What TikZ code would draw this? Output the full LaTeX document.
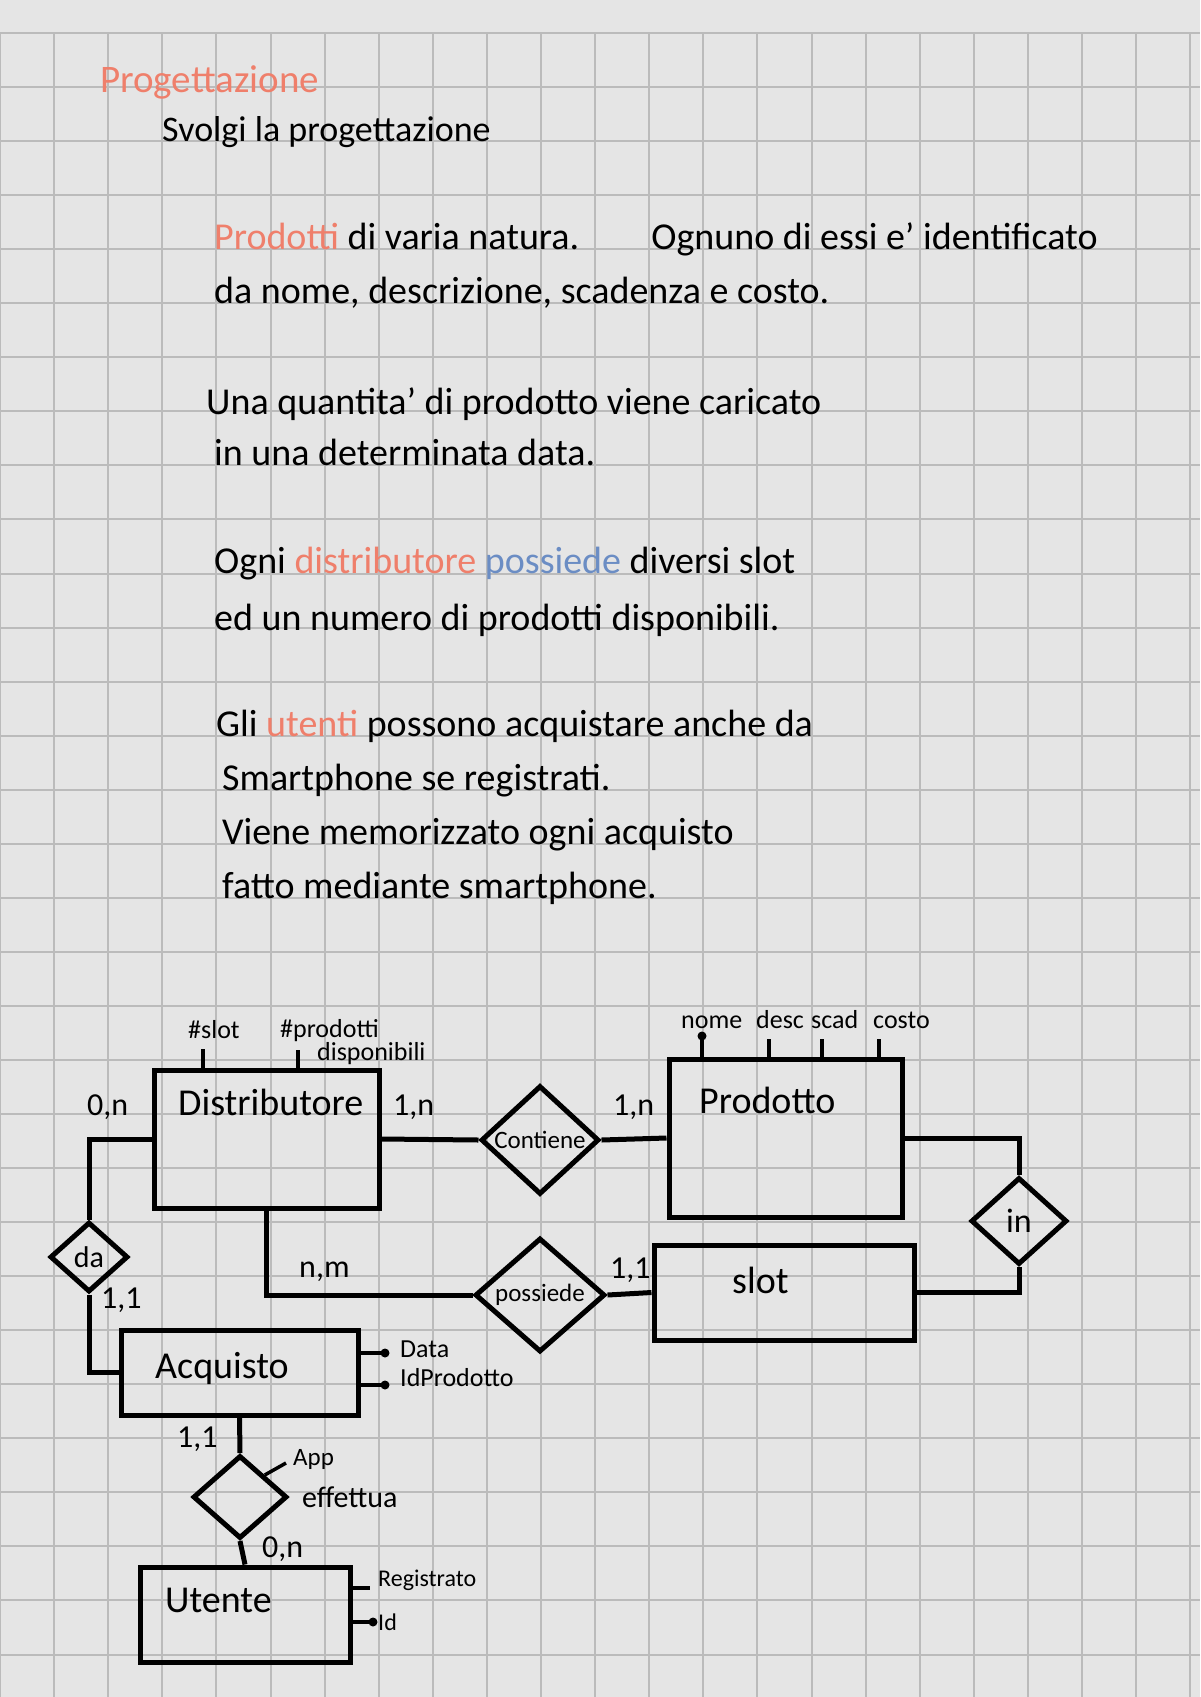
\documentclass[tikz,border=0pt]{standalone}
\usepackage{fontspec}
\setmainfont{Carlito}
\usetikzlibrary{shapes.geometric}
\definecolor{paper}{HTML}{E5E5E5}
\definecolor{gridgray}{HTML}{BBBBBB}
\definecolor{salmon}{HTML}{EF7F6B}
\definecolor{skyblue}{HTML}{6B8DC4}

\begin{document}
\begin{tikzpicture}[x=1pt, y=-1pt,
    txt/.style={anchor=base west, inner sep=0pt, font=\fontsize{38}{44}\selectfont},
    ename/.style={anchor=base west, inner sep=0pt, font=\fontsize{38}{40}\selectfont},
    card/.style={anchor=base west, inner sep=0pt, font=\fontsize{32}{34}\selectfont},
    attr/.style={anchor=base west, inner sep=0pt, font=\fontsize{26}{28}\selectfont},
    entity/.style={draw, line width=5pt, rectangle, inner sep=0pt},
    rel/.style={draw, line width=5pt, diamond, inner sep=0pt, font=\fontsize{25}{26}\selectfont},
    link/.style={line width=5pt},
    tick/.style={line width=3.5pt},
    gridline/.style={gridgray, line width=2pt}]

    % squared paper
    \fill[paper] (0,0) rectangle (1200,1697);
    \useasboundingbox (0,0) rectangle (1200,1697);
    \foreach \i in {0,...,22}
        \draw[gridline] (\i*54.1,33) -- (\i*54.1,1697);
    \foreach \j in {0,...,30}
        \draw[gridline] (0,33+\j*54.05) -- (1200,33+\j*54.05);

    % heading
    \node[txt, text=salmon, font=\fontsize{39}{44}\selectfont] (title) at (100,92) {Progettazione};
    \node[txt, font=\fontsize{36}{40}\selectfont] (subtitle) at (162,141) {Svolgi la progettazione};

    % text of the exercise
    \node[txt] (p1a) at (214,249) {{\color{salmon}Prodotti} di varia natura.\hspace{1.9em}Ognuno di essi e' identificato};
    \node[txt] (p1b) at (214,303) {da nome, descrizione, scadenza e costo.};
    \node[txt] (p2a) at (206,414) {Una quantita' di prodotto viene caricato};
    \node[txt] (p2b) at (214,465) {in una determinata data.};
    \node[txt] (p3a) at (214,573) {Ogni {\color{salmon}distributore} {\color{skyblue}possiede} diversi slot};
    \node[txt] (p3b) at (214,630) {ed un numero di prodotti disponibili.};
    \node[txt] (p4a) at (216,736) {Gli {\color{salmon}utenti} possono acquistare anche da};
    \node[txt] (p4b) at (222,790) {Smartphone se registrati.};
    \node[txt] (p4c) at (222,844) {Viene memorizzato ogni acquisto};
    \node[txt] (p4d) at (222,898) {fatto mediante smartphone.};

    % entities
    \node[entity, minimum width=225pt, minimum height=138pt] (distr) at (266.5,1139) {};
    \node[ename] (distrname) at (178,1115) {Distributore};
    \node[entity, minimum width=233pt, minimum height=158pt] (prod) at (785.5,1138) {};
    \node[ename] (prodname) at (699,1113) {Prodotto};
    \node[entity, minimum width=260pt, minimum height=95pt] (slot) at (784,1292.5) {};
    \node[ename] (slotname) at (732,1293) {slot};
    \node[entity, minimum width=237pt, minimum height=85pt] (acq) at (239.5,1372.5) {};
    \node[ename] (acqname) at (155,1378) {Acquisto};
    \node[entity, minimum width=210pt, minimum height=95pt] (ute) at (245,1614.5) {};
    \node[ename] (utename) at (165,1612) {Utente};

    % relationships
    \node[rel, minimum width=118pt, minimum height=102pt] (cont) at (540,1140) {Contiene};
    \node[rel, minimum width=130pt, minimum height=114pt] (poss) at (540,1295) {possiede};
    \node[rel, minimum width=78pt, minimum height=70pt, font=\fontsize{30}{30}\selectfont] (da) at (89,1257) {da};
    \node[rel, minimum width=96pt, minimum height=87pt, font=\fontsize{34}{34}\selectfont] (in) at (1019,1221) {in};
    \node[rel, minimum width=94pt, minimum height=83pt] (eff) at (240,1497) {};
    \node[attr, font=\fontsize{30}{30}\selectfont] (effname) at (302,1507) {effettua};

    % distributore -> da -> acquisto
    \draw[link] (distr.west) -| (da.north);
    \draw[link] (da.south) |- (acq.west);
    \node[card] (cdistrda) at (87,1115) {0,n};
    \node[card] (cacqda) at (101,1308) {1,1};

    % distributore -> contiene -> prodotto
    \draw[link] (distr.east) -- (cont.west);
    \draw[link] (cont.east) -- (prod.west);
    \node[card] (cdistrcont) at (393,1115) {1,n};
    \node[card] (cprodcont) at (613,1115) {1,n};

    % prodotto -> in -> slot
    \draw[link] (prod.east) -| (in.north);
    \draw[link] (in.south) |- (slot.east);

    % distributore -> possiede -> slot
    \draw[link] (distr.south) |- (poss.west);
    \draw[link] (poss.east) -- (slot.west);
    \node[card] (cdistrposs) at (299,1277) {n,m};
    \node[card] (cslotposs) at (610,1278) {1,1};

    % acquisto -> effettua -> utente
    \draw[link] (acq.south) -- (eff.north);
    \draw[link] (eff.south) -- (ute.north);
    \node[card] (cacqeff) at (177,1447) {1,1};
    \node[card] (cuteeff) at (262,1557) {0,n};

    % attributes of distributore
    \coordinate (tslot) at (203,1049);
    \coordinate (tprod) at (298,1050);
    \draw[tick] (tslot |- distr.north) -- (tslot);
    \draw[tick] (tprod |- distr.north) -- (tprod);
    \node[attr] (aslot) at (188,1038) {\#slot};
    \node[attr] (aprod) at (280,1037) {\#prodotti};
    \node[attr] (adisp) at (317,1060) {disponibili};

    % attributes of prodotto
    \coordinate (tnome) at (702,1036);
    \coordinate (tdesc) at (769,1039);
    \coordinate (tscad) at (822,1039);
    \coordinate (tcosto) at (879,1039);
    \draw[tick] (tnome |- prod.north) -- (tnome);
    \draw[tick] (tdesc |- prod.north) -- (tdesc);
    \draw[tick] (tscad |- prod.north) -- (tscad);
    \draw[tick] (tcosto |- prod.north) -- (tcosto);
    \fill (tnome) circle (4.5pt);
    \node[attr] (anome) at (681,1028) {nome};
    \node[attr] (adesc) at (756,1028) {desc};
    \node[attr] (ascad) at (811,1028) {scad};
    \node[attr] (acosto) at (873,1028) {costo};

    % attributes of acquisto
    \coordinate (tdata) at (385,1353);
    \coordinate (tidp) at (385,1385);
    \draw[tick] (acq.east |- tdata) -- (tdata);
    \draw[tick] (acq.east |- tidp) -- (tidp);
    \fill (tdata) circle (4.5pt);
    \fill (tidp) circle (4.5pt);
    \node[attr, font=\fontsize{26}{28}\selectfont] (adata) at (400,1357) {Data};
    \node[attr, font=\fontsize{26}{28}\selectfont] (aidp) at (400,1386) {IdProdotto};

    % attribute of effettua
    \coordinate (tapp) at (286,1463);
    \draw[tick] (eff.north east) -- (tapp);
    \node[attr, font=\fontsize{25}{26}\selectfont] (aapp) at (293,1465) {App};

    % attributes of utente
    \coordinate (treg) at (370,1588);
    \coordinate (tid) at (373,1622);
    \draw[tick] (ute.east |- treg) -- (treg);
    \draw[tick] (ute.east |- tid) -- (tid);
    \fill (tid) circle (4.5pt);
    \node[attr, font=\fontsize{24}{26}\selectfont] (areg) at (378,1586) {Registrato};
    \node[attr, font=\fontsize{24}{26}\selectfont, anchor=west] (aid) at (378,1622) {Id};

\end{tikzpicture}
\end{document}
